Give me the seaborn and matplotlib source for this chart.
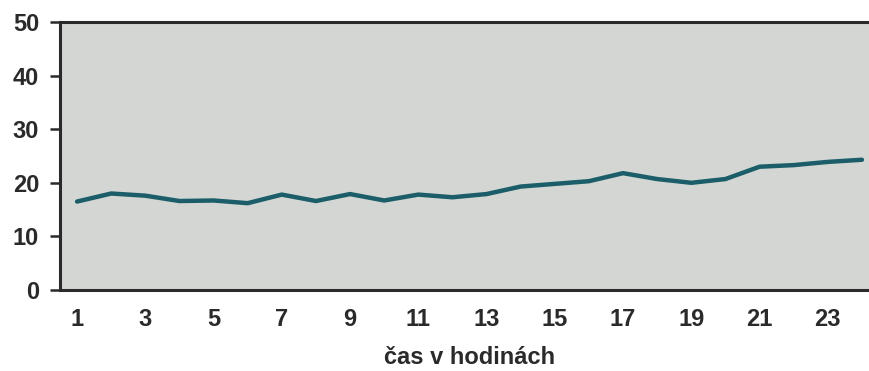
import matplotlib
matplotlib.use("Agg")
import matplotlib.pyplot as plt
import seaborn as sns
import pandas as pd
import numpy as np

hours = list(range(1, 25))
values = [16.5, 18.0, 17.6, 16.6, 16.7, 16.2, 17.8, 16.6, 17.9, 16.7, 17.8, 17.3,
          17.9, 19.3, 19.8, 20.3, 21.8, 20.7, 20.0, 20.7, 23.0, 23.3, 23.9, 24.3]
xtick_labels = [str(h) for h in range(1, 24, 2)]
yticks = [0, 10, 20, 30, 40, 50]
xlabel = "čas v hodinách"

df = pd.DataFrame({"hodina": hours, "hodnota": values})

sns.set_style("white")
plt.rcParams["font.family"] = ["Liberation Sans", "DejaVu Sans"]

fig = plt.figure(figsize=(8.7, 3.71), dpi=100)
ax = fig.add_axes([60 / 870, 81 / 371, 819 / 870, 268 / 371])
ax.set_facecolor("#d4d6d3")

sns.lineplot(data=df, x="hodina", y="hodnota", ax=ax, color="#1b5e69", linewidth=3.2)

ax.set_xlim(0.5, 24.5)
ax.set_ylim(0, 50)
ax.set_yticks(yticks)
ax.set_yticklabels([str(v) for v in yticks], fontsize=17, fontweight="bold", color="#2a2a2a")
ax.set_xticks(range(1, 24, 2))
ax.set_xticklabels(xtick_labels, fontsize=17, fontweight="bold", color="#2a2a2a")
ax.set_xticks(np.arange(0.5, 25, 1), minor=True)
ax.tick_params(axis="x", which="major", length=0, pad=13)
ax.tick_params(axis="x", which="minor", length=7, width=1.8, color="#2a2a2a", direction="out")
ax.tick_params(axis="y", which="major", length=7, width=1.8, color="#2a2a2a", pad=8, direction="out")
ax.tick_params(bottom=True, left=True)
for s in ax.spines.values():
    s.set_color("#2a2a2a")
    s.set_linewidth(2.2)
ax.spines["right"].set_visible(False)

ax.set_xlabel(xlabel, fontsize=17, fontweight="bold", color="#2a2a2a", labelpad=11)
ax.set_ylabel("")

fig.savefig("out.png", dpi=100, facecolor="white")
